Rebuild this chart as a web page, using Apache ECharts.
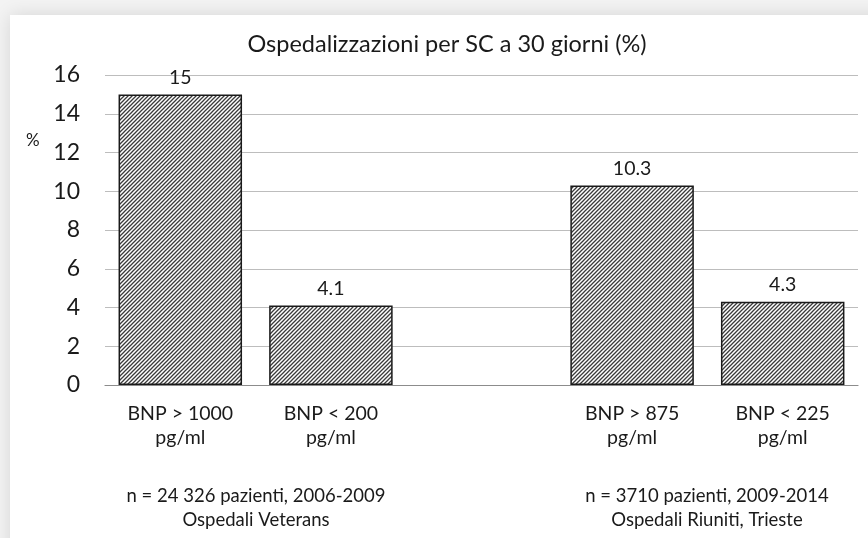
<!DOCTYPE html>
<html>
<head>
<meta charset="utf-8">
<script src="https://cdn.jsdelivr.net/npm/echarts@6/dist/echarts.min.js"></script>
<style>
  html, body { margin: 0; padding: 0; background: #fff; }
  #main { width: 868px; height: 538px; }
</style>
</head>
<body>
<div id="main"></div>
<script>
var categories = ['BNP > 1000\npg/ml', 'BNP < 200\npg/ml', '', 'BNP > 875\npg/ml', 'BNP < 225\npg/ml'];
var values = [15, 4.1, null, 10.3, 4.3];
var yTicks = [0, 2, 4, 6, 8, 10, 12, 14, 16];
var groupNotes = ['n = 24 326 pazienti, 2006-2009\nOspedali Veterans', 'n = 3710 pazienti, 2009-2014\nOspedali Riuniti, Trieste'];

// hatch pattern like "////"
function hatch() {
    var c = document.createElement('canvas');
    c.width = 4; c.height = 4;
    var ctx = c.getContext('2d');
    ctx.fillStyle = '#ffffff';
    ctx.fillRect(0, 0, 4, 4);
    ctx.strokeStyle = '#3a3a3a';
    ctx.lineWidth = 1.3;
    ctx.beginPath();
    ctx.moveTo(0, 4); ctx.lineTo(4, 0);
    ctx.moveTo(-1, 1); ctx.lineTo(1, -1);
    ctx.moveTo(3, 5); ctx.lineTo(5, 3);
    ctx.stroke();
    return c;
}

var font = 'Lato, "Open Sans", sans-serif';
var chartDom = document.getElementById('main');
var myChart = echarts.init(chartDom);
var option;

option = {
    backgroundColor: '#f3f3f3',
    textStyle: { fontFamily: font },
    title: {
        text: 'Ospedalizzazioni per SC a 30 giorni (%)',
        left: 442,
        top: 27,
        textAlign: 'center',
        textStyle: { fontFamily: font, fontSize: 23.5, fontWeight: 'normal', color: '#1a1a1a' }
    },
    grid: { left: 105, right: 10, top: 75, bottom: 153 },
    xAxis: {
        type: 'category',
        data: categories,
        axisLine: { lineStyle: { color: '#8c8c8c', width: 1.2 } },
        axisTick: { show: false },
        axisLabel: { fontSize: 19.5, color: '#1a1a1a', lineHeight: 24, margin: 17, interval: 0 }
    },
    yAxis: {
        type: 'value',
        min: yTicks[0],
        max: yTicks[yTicks.length - 1],
        interval: 2,
        axisLine: { show: false },
        axisTick: { show: false },
        splitLine: { lineStyle: { color: '#bdbdbd', width: 1.2 } },
        axisLabel: { fontSize: 23, color: '#1a1a1a', margin: 25 }
    },
    graphic: [
        {
            type: 'rect',
            z: -10,
            shape: { x: 10, y: 15, width: 900, height: 560 },
            style: { fill: '#ffffff', shadowBlur: 18, shadowColor: 'rgba(0,0,0,0.12)' }
        },
        {
            type: 'text', left: 26, top: 132,
            style: { text: '%', font: '17px ' + font, fill: '#1a1a1a' }
        },
        {
            type: 'text', x: 256, y: 484,
            style: { text: groupNotes[0], font: '18.5px ' + font, fill: '#1a1a1a', align: 'center', lineHeight: 24 }
        },
        {
            type: 'text', x: 707, y: 484,
            style: { text: groupNotes[1], font: '18.5px ' + font, fill: '#1a1a1a', align: 'center', lineHeight: 24 }
        }
    ],
    series: [
        {
            type: 'bar',
            data: values,
            barWidth: '82%',
            itemStyle: {
                color: { image: hatch(), repeat: 'repeat' },
                borderColor: '#1a1a1a',
                borderWidth: 1.5
            },
            label: {
                show: true,
                position: 'top',
                distance: 7,
                fontSize: 19.5,
                color: '#1a1a1a',
                fontFamily: font
            }
        }
    ]
};

option && myChart.setOption(option);
</script>
</body>
</html>
